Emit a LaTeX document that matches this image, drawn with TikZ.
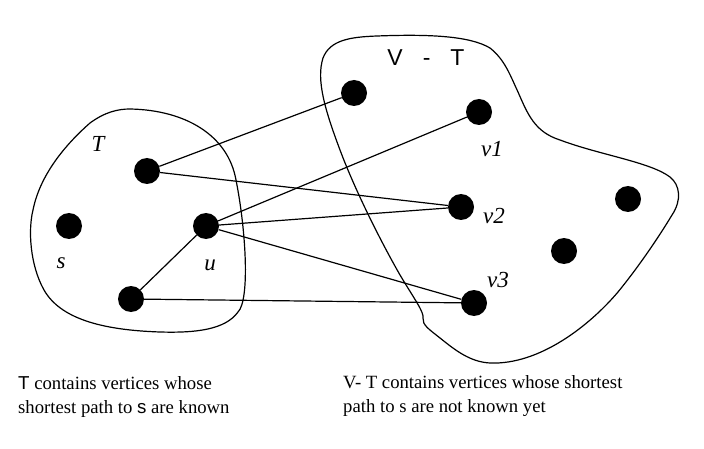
\documentclass[tikz,border=0pt]{standalone}
\usepackage{fontspec}
\setmainfont{Liberation Serif}
\setsansfont{Liberation Sans}

\begin{document}
\begin{tikzpicture}[x=1pt, y=-1pt,
  vtx/.style={circle, fill=black, minimum size=26pt, inner sep=0pt},
  lbl/.style={font=\fontsize{23}{23}\selectfont\itshape},
  note/.style={anchor=base west, align=left, inner sep=0pt, font=\fontsize{18.7}{23.5}\selectfont},
  set/.style={line width=1.2pt},
  edge/.style={line width=1.2pt}]
  \useasboundingbox (0,0) rectangle (704,449);
  % the two sets
  \draw[set] (90,123) .. controls (105,112) and (118,109) .. (130,109)
    .. controls (185,110) and (228,135) .. (236,180)
    .. controls (246,230) and (250,300) .. (238,312)
    .. controls (225,330) and (195,333) .. (160,332)
    .. controls (100,330) and (60,318) .. (44,290)
    .. controls (30,265) and (28,230) .. (33,210)
    .. controls (40,175) and (65,145) .. cycle;
  \draw[set] (323,58) .. controls (330,40) and (350,37) .. (377,36)
    .. controls (430,34) and (470,36) .. (490,48)
    .. controls (505,60) and (510,75) .. (518,92)
    .. controls (528,115) and (535,132) .. (560,140)
    .. controls (600,155) and (650,162) .. (670,177)
    .. controls (680,185) and (682,200) .. (672,215)
    .. controls (660,235) and (640,265) .. (618,292)
    .. controls (590,325) and (540,365) .. (490,363)
    .. controls (470,362) and (455,350) .. (440,338)
    .. controls (430,330) and (422,325) .. (423,318)
    .. controls (424,312) and (415,300) .. (400,275)
    .. controls (380,240) and (355,190) .. (340,150)
    .. controls (325,110) and (316,80) .. cycle;
  % vertices in T
  \node[vtx] (a) at (147,171) {};
  \node[vtx] (s) at (69,226) {};
  \node[vtx] (u) at (206,226) {};
  \node[vtx] (b) at (131,299) {};
  % vertices in V - T
  \node[vtx] (w) at (354,93) {};
  \node[vtx] (v1) at (479,112) {};
  \node[vtx] (v2) at (461,207) {};
  \node[vtx] (v3) at (474,303) {};
  \node[vtx] (x) at (628,199) {};
  \node[vtx] (y) at (564,251) {};
  % labels
  \node[lbl] (tl) at (98,144) {T};
  \node[lbl] (sl) at (61,263) {s};
  \node[lbl] (ul) at (210,265) {u};
  \node[lbl] (v1l) at (492,149) {v1};
  \node[lbl] (v2l) at (494,216) {v2};
  \node[lbl] (v3l) at (498,280) {v3};
  \node[font=\sffamily\fontsize{23}{23}\selectfont] (vt) at (426,58) {V\hspace{20pt}-\hspace{20pt}T};
  % edges
  \draw[edge] (a) -- (w);
  \draw[edge] (a) -- (v2);
  \draw[edge] (u) -- (v1);
  \draw[edge] (u) -- (v2);
  \draw[edge] (u) -- (v3);
  \draw[edge] (u) -- (b);
  \draw[edge] (b) -- (v3);
  % notes
  \node[note] (n1) at (18,413) {{\sffamily T} contains vertices whose\\shortest path to {\sffamily s} are known};
  \node[note] (n2) at (343,412) {V- T contains vertices whose shortest\\path to s are not known yet};
\end{tikzpicture}
\end{document}
